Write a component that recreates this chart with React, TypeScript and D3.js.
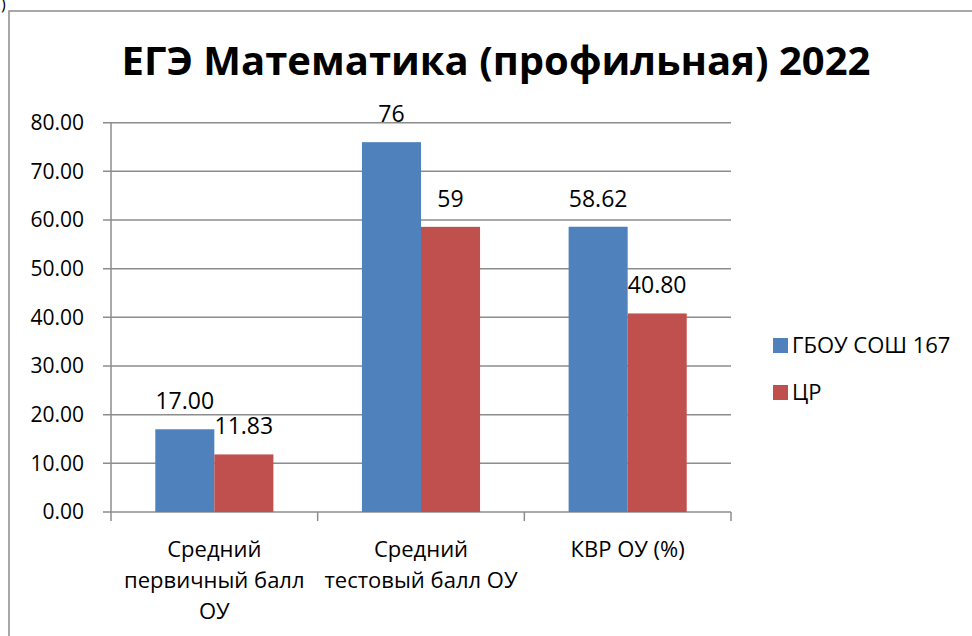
import React from "react";
import { scaleBand, scaleLinear, range } from "d3";

const categories = ["Средний первичный балл ОУ", "Средний тестовый балл ОУ", "КВР ОУ (%)"];
const categoryLines = [["Средний", "первичный балл", "ОУ"], ["Средний", "тестовый балл ОУ"], ["КВР ОУ (%)"]];
const seriesNames = ["ГБОУ СОШ 167", "ЦР"];
const schoolValues = [17, 76, 58.62];
const districtValues = [11.83, 58.6, 40.8];
const schoolLabels = ["17.00", "76", "58.62"];
const districtLabels = ["11.83", "59", "40.80"];
const yTicks = range(0, 81, 10);

const colors = ["#4f81bd", "#c0504d"];
const grid = "#8c8c8c";
const font = "'Open Sans', sans-serif";

export default function App() {
  const left = 111, right = 731, top = 122.7, bottom = 512;

  const x0 = scaleBand().domain(categories).range([left, right]);
  const x1 = scaleBand().domain(seriesNames).range([0, x0.bandwidth()]).paddingOuter(0.75);
  const y = scaleLinear().domain([0, 80]).range([bottom, top]);

  const values = [schoolValues, districtValues];
  const labels = [schoolLabels, districtLabels];

  return (
    <svg width={972} height={636} style={{ position: "absolute", left: 0, top: 0 }} fontFamily={font}>
      <rect x={0} y={0} width={972} height={636} fill="#fff" />
      <text x={1} y={10} fontSize={16}>)</text>
      <rect x={9} y={11} width={1000} height={700} fill="none" stroke="#8c8c8c" strokeWidth={1.5} />

      <text x={496} y={75} textAnchor="middle" fontSize={40} fontWeight="bold">
        ЕГЭ Математика (профильная) 2022
      </text>

      {yTicks.map((t) => (
        <g key={t}>
          <line x1={103} x2={right} y1={y(t)} y2={y(t)} stroke={grid} strokeWidth={1.5} />
          <text x={84} y={y(t)} dy="0.35em" textAnchor="end" fontSize={21}>
            {t.toFixed(2)}
          </text>
        </g>
      ))}
      <line x1={left} x2={left} y1={top} y2={bottom + 9} stroke={grid} strokeWidth={1.5} />
      {categories.map((c) => (
        <line key={c} x1={(x0(c) as number) + x0.bandwidth()} x2={(x0(c) as number) + x0.bandwidth()}
          y1={bottom} y2={bottom + 9} stroke={grid} strokeWidth={1.5} />
      ))}

      {seriesNames.map((s, si) =>
        categories.map((c, ci) => {
          const bx = (x0(c) as number) + (x1(s) as number);
          const by = y(values[si][ci]);
          return (
            <g key={s + c}>
              <rect x={bx} y={by} width={x1.bandwidth()} height={bottom - by} fill={colors[si]} />
              <text x={bx + x1.bandwidth() / 2} y={by - 20} textAnchor="middle" fontSize={23}>
                {labels[si][ci]}
              </text>
            </g>
          );
        })
      )}

      {categories.map((c, ci) => (
        <text key={c} x={(x0(c) as number) + x0.bandwidth() / 2} y={557} textAnchor="middle" fontSize={22}>
          {categoryLines[ci].map((l, li) => (
            <tspan key={li} x={(x0(c) as number) + x0.bandwidth() / 2} dy={li === 0 ? 0 : 31}>{l}</tspan>
          ))}
        </text>
      ))}

      {seriesNames.map((s, si) => (
        <g key={s} transform={`translate(773, ${338 + si * 47})`}>
          <rect width={15} height={15} fill={colors[si]} />
          <text x={19} y={15} fontSize={22}>{s}</text>
        </g>
      ))}
    </svg>
  );
}
